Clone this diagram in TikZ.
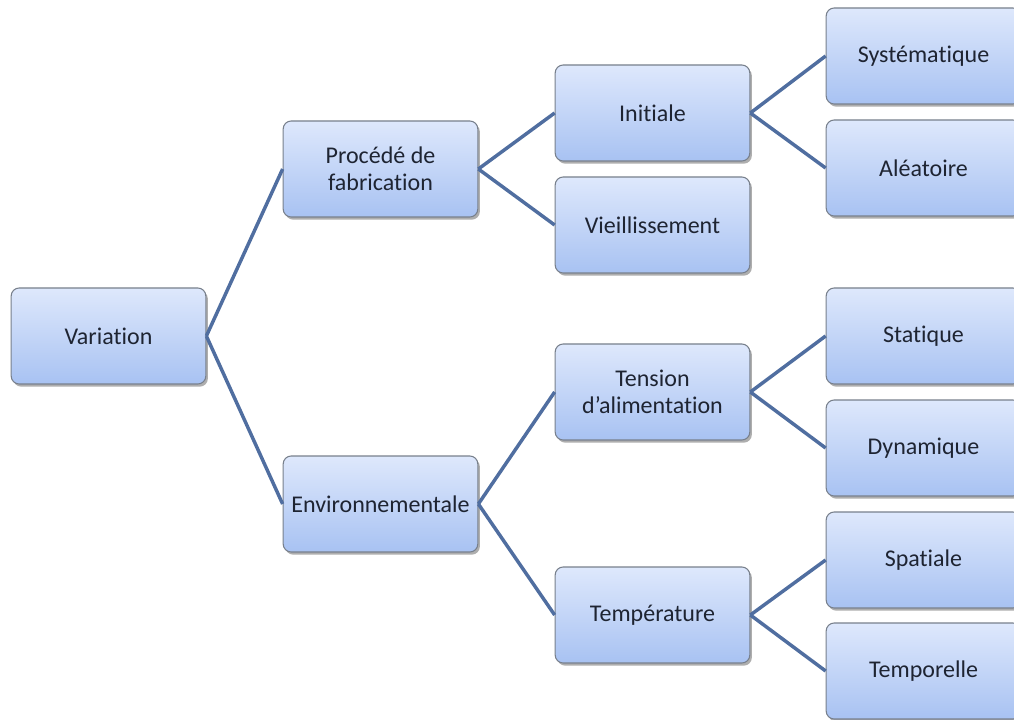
\documentclass[tikz,border=0pt]{standalone}
\usepackage{fontspec}
\setmainfont{Carlito}[Ligatures={NoCommon,NoContextual}]
\usetikzlibrary{shadows}
\definecolor{txt}{RGB}{30,36,50}
\definecolor{edge}{RGB}{80,110,160}
\definecolor{btop}{RGB}{222,232,252}
\definecolor{bbot}{RGB}{168,194,242}
\definecolor{bord}{RGB}{120,128,140}
\tikzset{
  box/.style={rectangle, rounded corners=6pt, minimum width=146pt, minimum height=72pt,
    top color=btop, bottom color=bbot, draw=bord, line width=0.8pt,
    drop shadow={shadow xshift=1.5pt, shadow yshift=-2pt, opacity=0.45, fill=black!70},
    text=txt, align=center, font=\fontsize{18}{20.5}\selectfont, inner sep=2pt},
  link/.style={draw=edge, line width=2.6pt}
}
\begin{document}
\begin{tikzpicture}[x=0.75pt,y=-0.75pt]
\useasboundingbox (0,0) rectangle (1014,720);
\begin{scope}
\clip (0,0) rectangle (1014,720);
\node[box] (var) at (108.5,336) {Variation};
\node[box] (proc) at (380.5,169) {Procédé de\\fabrication};
\node[box] (env) at (380.5,504) {Environnementale};
\node[box] (ini) at (652.5,113) {Initiale};
\node[box] (vie) at (652.5,225) {Vieillissement};
\node[box] (ten) at (652.5,392) {Tension\\d’alimentation};
\node[box] (tem) at (652.5,615) {Température};
\node[box] (sys) at (923.5,56) {Systématique};
\node[box] (ale) at (923.5,168) {Aléatoire};
\node[box] (sta) at (923.5,336) {Statique};
\node[box] (dyn) at (923.5,448) {Dynamique};
\node[box] (spa) at (923.5,560) {Spatiale};
\node[box] (tpo) at (923.5,671) {Temporelle};
\draw[link] (var.east) -- (proc.west);
\draw[link] (var.east) -- (env.west);
\draw[link] (proc.east) -- (ini.west);
\draw[link] (proc.east) -- (vie.west);
\draw[link] (env.east) -- (ten.west);
\draw[link] (env.east) -- (tem.west);
\draw[link] (ini.east) -- (sys.west);
\draw[link] (ini.east) -- (ale.west);
\draw[link] (ten.east) -- (sta.west);
\draw[link] (ten.east) -- (dyn.west);
\draw[link] (tem.east) -- (spa.west);
\draw[link] (tem.east) -- (tpo.west);
\end{scope}
\end{tikzpicture}
\end{document}
